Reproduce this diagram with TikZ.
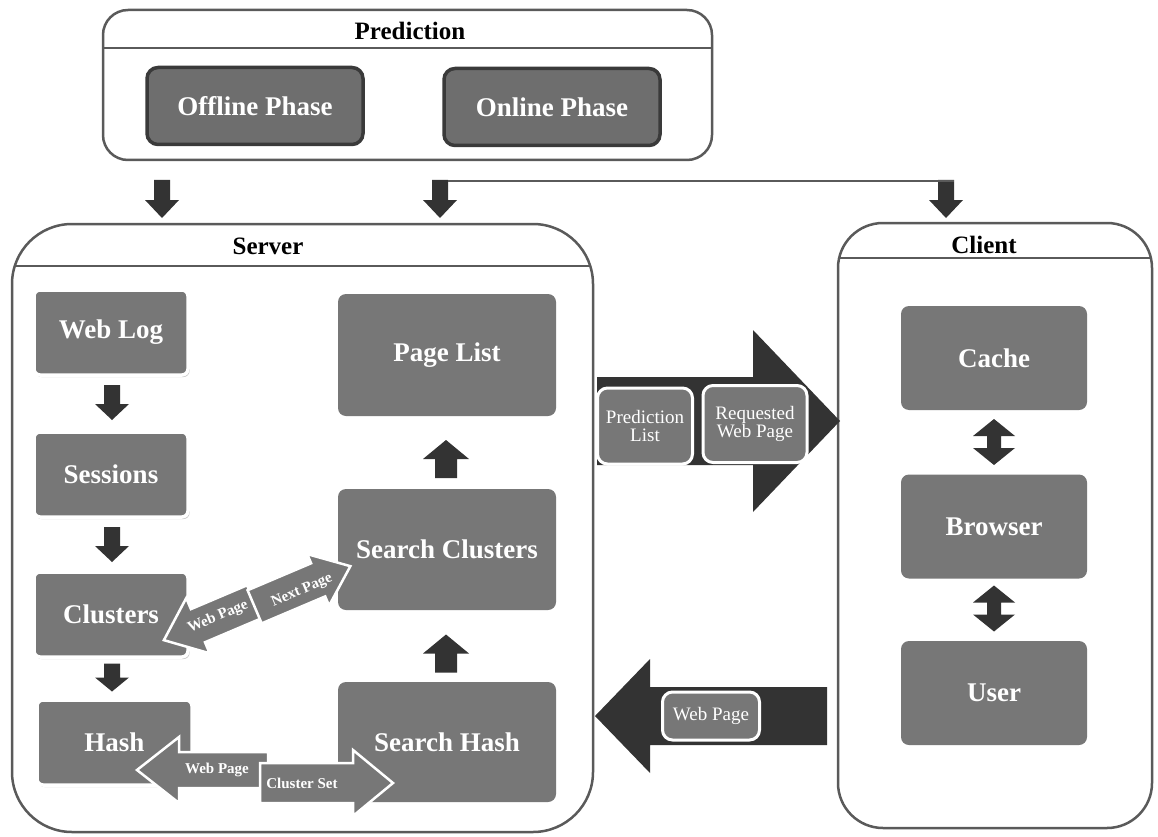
\documentclass[tikz,border=0pt]{standalone}
\usepackage{fontspec}
\setmainfont{Liberation Serif}
\usetikzlibrary{shadows}
\definecolor{boxgray}{HTML}{777777}
\definecolor{phasegray}{HTML}{6E6E6E}
\definecolor{darkarr}{HTML}{333333}
\definecolor{framec}{HTML}{5A5A5A}
\definecolor{phaseb}{HTML}{3A3A3A}
\newcommand\blkarrow[7]{%
  \begin{scope}[shift={(#2)}, rotate=#3]
    \path[#1] ({-#4/2},{-#5}) -- ({#4/2-#7},{-#5}) -- ({#4/2-#7},{-#6}) -- ({#4/2},0)
      -- ({#4/2-#7},{#6}) -- ({#4/2-#7},{#5}) -- ({-#4/2},{#5}) -- cycle;
  \end{scope}}
\newcommand\vdblarrow[1]{%
  \begin{scope}[shift={(#1)}]
    \fill[darkarr] (0,-23) -- (21,-6) -- (7,-6) -- (7,6) -- (21,6) -- (0,23)
      -- (-21,6) -- (-7,6) -- (-7,-6) -- (-21,-6) -- cycle;
  \end{scope}}
\tikzset{
  container/.style={draw=framec, line width=2.5pt, fill=white},
  titleline/.style={draw=framec, line width=1.5pt},
  titletext/.style={font=\fontsize{25}{28}\selectfont\bfseries, text=black},
  phasebox/.style={draw=phaseb, line width=3.5pt, fill=phasegray, rounded corners=11pt,
    minimum width=216pt, minimum height=77pt, text=white, font=\fontsize{27}{30}\selectfont\bfseries},
  halobox/.style={fill=boxgray, draw=white, line width=3.5pt, rounded corners=6pt,
    minimum width=154pt, minimum height=85pt, text=white, font=\fontsize{27}{30}\selectfont\bfseries,
    drop shadow={shadow xshift=1.5pt, shadow yshift=-2pt, opacity=0.25, fill=black}},
  plainbox/.style={fill=boxgray, rounded corners=8pt, text=white,
    font=\fontsize{27}{30}\selectfont\bfseries},
  smallbox/.style={fill=boxgray, draw=white, line width=3pt, rounded corners=10pt, text=white,
    align=center, font=\fontsize{19}{18}\selectfont, inner sep=0pt},
  arrtext/.style={text=white, font=\fontsize{15}{17}\selectfont\bfseries, inner sep=0pt},
  darkfill/.style={fill=darkarr},
  grayarrow/.style={fill=boxgray, draw=white, line width=2.5pt, line join=miter},
}
\begin{document}
\begin{tikzpicture}[x=1pt, y=-1pt]
\useasboundingbox (0,0) rectangle (1158,837);

% ---------- Prediction ----------
\draw[container, rounded corners=25pt] (103,10) rectangle (712,160);
\begin{scope}
  \clip[rounded corners=25pt] (103,10) rectangle (712,160);
  \draw[titleline] (103,48) -- (712,48);
\end{scope}
\node[titletext] (predt) at (410,31) {Prediction};
\node[phasebox] (offline) at (255,106) {Offline Phase};
\node[phasebox] (online) at (552,107) {Online Phase};

% arrows below prediction
\blkarrow{darkfill}{162,199}{-90}{38}{8}{17}{18}
\blkarrow{darkfill}{440,199}{-90}{38}{8}{17}{18}
\blkarrow{darkfill}{946,199}{-90}{38}{8}{17}{18}
\coordinate (la) at (448,181);
\coordinate (lb) at (954,181);
\draw[titleline] (la) -- (lb);

% ---------- Server ----------
\draw[container, rounded corners=60pt] (12,224) rectangle (593,832);
\begin{scope}
  \clip[rounded corners=60pt] (12,224) rectangle (593,832);
  \draw[titleline] (12,266) -- (593,266);
\end{scope}
\node[titletext] (servert) at (268,246) {Server};

\node[halobox] (weblog) at (111,332.5) {Web Log};
\node[halobox] (sessions) at (111,474.5) {Sessions};
\node[halobox] (clusters) at (111,614.5) {Clusters};
\node[halobox, minimum width=155pt] (hash) at (114.5,742.5) {Hash};

\node[plainbox, minimum width=218pt, minimum height=122pt] (pagelist) at (447,355) {Page List};
\node[plainbox, minimum width=218pt, minimum height=121pt] (searchcl) at (447,549.5) {Search Clusters};
\node[plainbox, minimum width=218pt, minimum height=120pt] (searchh) at (447,742) {Search Hash};

% left column down arrows
\blkarrow{darkfill}{112,402.5}{-90}{35}{8}{17}{16}
\blkarrow{darkfill}{112,544.5}{-90}{35}{8}{17}{16}
\blkarrow{darkfill}{112,677.5}{-90}{28}{8}{17}{14}
% right column up arrows
\blkarrow{darkfill}{446,459}{90}{38}{11}{23}{19}
\blkarrow{darkfill}{446,653.5}{90}{38}{11}{23}{19}

% diagonal double arrow
\blkarrow{grayarrow}{209,621}{203}{98}{18}{30}{37}
\blkarrow{grayarrow}{302.5,586.5}{23}{104}{18}{28}{35}
\node[arrtext, rotate=23] (dwp) at (218,617) {Web Page};
\node[arrtext, rotate=23] (dnp) at (302,591) {Next Page};

% lower double arrow
\blkarrow{grayarrow}{202.5,770}{180}{131}{18}{33}{42}
\blkarrow{grayarrow}{326.5,783}{0}{133}{20}{33}{40}
\node[arrtext] (lwp) at (217,770) {Web Page};
\node[arrtext] (lcs) at (302,783) {Cluster Set};

% ---------- Client ----------
\draw[container, rounded corners=45pt] (838,223) rectangle (1152,828);
\begin{scope}
  \clip[rounded corners=45pt] (838,223) rectangle (1152,828);
  \draw[titleline] (838,258) -- (1152,258);
\end{scope}
\node[titletext] (clientt) at (984,245) {Client};

\node[plainbox, minimum width=186pt, minimum height=104pt] (cache) at (994,358) {Cache};
\node[plainbox, minimum width=186pt, minimum height=104pt] (browser) at (994,526.5) {Browser};
\node[plainbox, minimum width=186pt, minimum height=104pt] (user) at (994,693) {User};
\vdblarrow{994,442}
\vdblarrow{994,608.5}

% ---------- big arrows between server and client ----------
\blkarrow{darkfill}{718.5,421}{0}{243}{44}{91}{87}
\node[smallbox, minimum width=95pt, minimum height=76pt] (predlist) at (645,426) {Prediction\\List};
\node[smallbox, minimum width=104pt, minimum height=77pt] (reqwp) at (755,424) {Requested\\Web Page};

\blkarrow{darkfill}{711,716}{180}{232}{29}{57}{55}
\node[smallbox, minimum width=97pt, minimum height=48pt] (retwp) at (711,716) {Web Page};
\end{tikzpicture}
\end{document}
